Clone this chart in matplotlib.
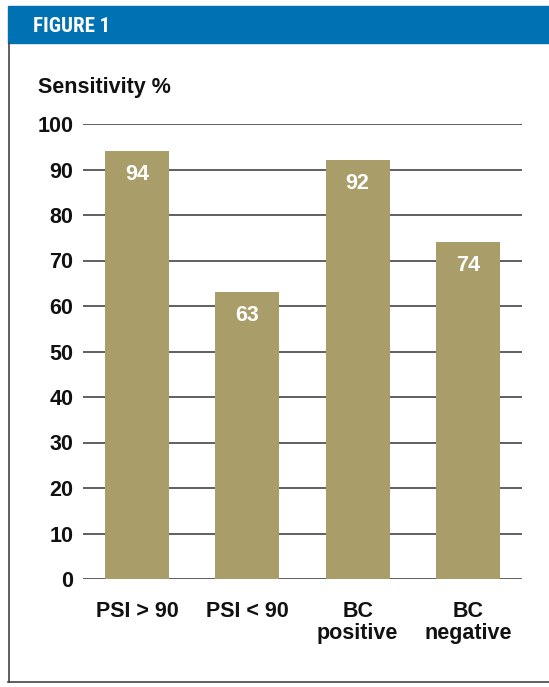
"""Figure 1: sensitivity by subgroup, bar chart in a framed box."""

import matplotlib.pyplot as plt
from matplotlib.patches import Rectangle
from matplotlib.lines import Line2D

categories = ["PSI > 90", "PSI < 90", "BC\npositive", "BC\nnegative"]
sensitivity = [94, 63, 92, 74]
y_ticks = [0, 10, 20, 30, 40, 50, 60, 70, 80, 90, 100]

_BAR_COLOR = "#A99D69"
_HEADER_COLOR = "#0071B3"
_GRID_COLOR = "#444444"
_TEXT_COLOR = "#111111"
_FS = 15.5

plt.rcParams["font.family"] = ["Liberation Sans", "DejaVu Sans"]
plt.rcParams["font.weight"] = "bold"

W, H = 549, 687
fig = plt.figure(figsize=(W / 100, H / 100), dpi=100)

# frame: blue header band plus left/bottom border
fig.patches.append(Rectangle((8 / W, 1 - 43 / H), 1 - 8 / W, 37 / H,
                             transform=fig.transFigure, color=_HEADER_COLOR))
fig.lines.append(Line2D([8.5 / W, 8.5 / W], [1 - 43 / H, 1 - 682 / H],
                        transform=fig.transFigure, color="#444444", lw=1.2))
fig.lines.append(Line2D([8 / W, 1], [1 - 682 / H, 1 - 682 / H],
                        transform=fig.transFigure, color="#444444", lw=1.2))
fig.text(33 / W, 1 - 26 / H, "FIGURE 1", color="white", fontsize=15,
         family=["Roboto Condensed", "DejaVu Sans"], va="center", ha="left")
fig.text(38 / W, 1 - 88 / H, "Sensitivity %", color=_TEXT_COLOR, fontsize=_FS,
         va="center", ha="left")

ax = fig.add_axes([83 / W, 1 - 579 / H, (522 - 83) / W, (579 - 124) / H])
x = range(len(categories))
bars = ax.bar(x, sensitivity, width=0.58, color=_BAR_COLOR, zorder=3)
for rect, v in zip(bars, sensitivity):
    ax.text(rect.get_x() + rect.get_width() / 2, v - 5, str(v), color="white",
            fontsize=_FS, ha="center", va="center", zorder=4)

ax.set_xlim(-0.49, 3.49)
ax.set_ylim(0, 100)
ax.set_yticks(y_ticks)
ax.set_xticks(list(x))
ax.set_xticklabels(categories, fontsize=_FS, linespacing=1.05, va="top",
                   color=_TEXT_COLOR)
ax.tick_params(axis="y", length=0, pad=7, labelsize=_FS, labelcolor=_TEXT_COLOR)
ax.tick_params(axis="x", length=0, pad=16)
ax.grid(axis="y", color=_GRID_COLOR, lw=1.2, zorder=1)
ax.set_axisbelow(True)
for s in ax.spines.values():
    s.set_visible(False)

fig.savefig("out.png", dpi=100)
